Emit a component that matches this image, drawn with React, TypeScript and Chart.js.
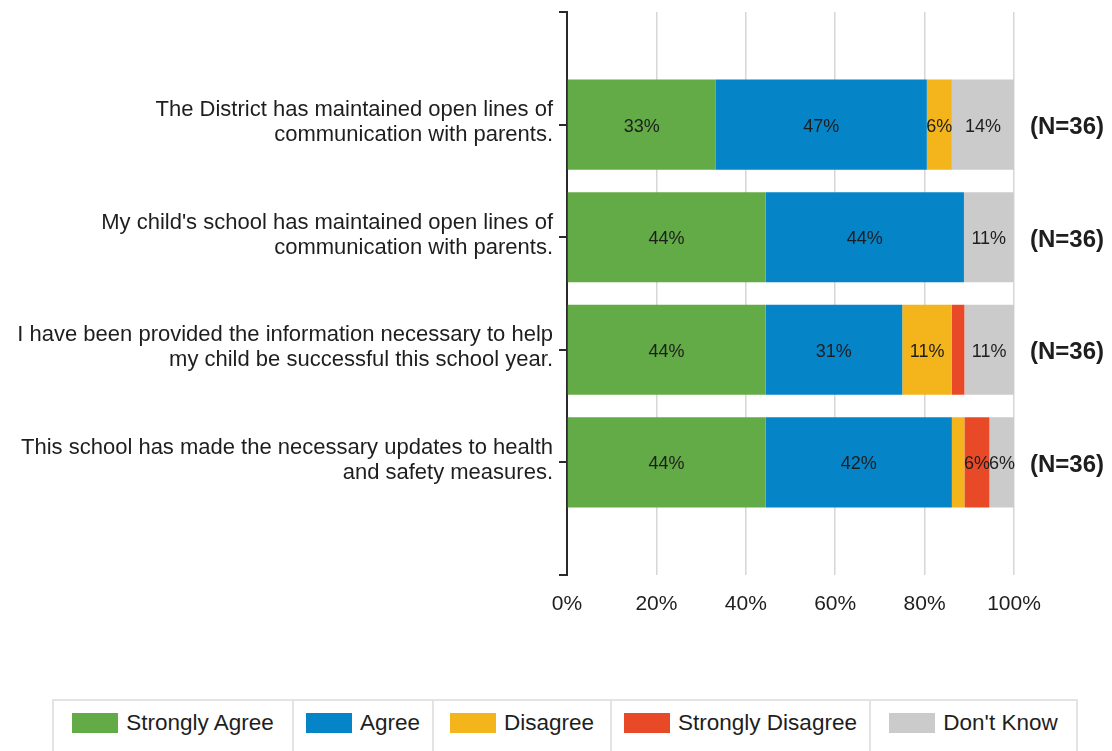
import React, { useEffect, useRef } from 'react';
import { Chart, registerables } from 'chart.js';

Chart.register(...registerables);

const categories: string[][] = [
  ['The District has maintained open lines of', 'communication with parents.'],
  ["My child's school has maintained open lines of", 'communication with parents.'],
  ['I have been provided the information necessary to help', 'my child be successful this school year.'],
  ['This school has made the necessary updates to health', 'and safety measures.'],
];
const nLabels = ['(N=36)', '(N=36)', '(N=36)', '(N=36)'];
const seriesNames = ['Strongly Agree', 'Agree', 'Disagree', 'Strongly Disagree', "Don't Know"];
const seriesColors = ['#62ab46', '#0584c8', '#f3b51b', '#e84a27', '#cbcbcb'];
const stronglyAgree = [33.3, 44.4, 44.4, 44.4];
const agree = [47.2, 44.4, 30.6, 41.7];
const disagree = [5.6, 0, 11.1, 2.8];
const stronglyDisagree = [0, 0, 2.8, 5.6];
const dontKnow = [13.9, 11.1, 11.1, 5.6];
const xTickStep = 20;
const labelThreshold = 5;

const FONT = '"Liberation Sans", Arial, sans-serif';
const TEXT = '#1e1e1e';

const segmentLabels = {
  id: 'segmentLabels',
  afterDatasetsDraw(chart: any) {
    const ctx = chart.ctx;
    ctx.save();
    ctx.font = `18px ${FONT}`;
    ctx.fillStyle = TEXT;
    ctx.textAlign = 'center';
    ctx.textBaseline = 'middle';
    chart.data.datasets.forEach((ds: any, di: number) => {
      const meta = chart.getDatasetMeta(di);
      meta.data.forEach((bar: any, i: number) => {
        const v = ds.data[i];
        if (v == null || v < labelThreshold) return;
        const p = bar.getProps(['x', 'y', 'base'], true);
        ctx.fillText(Math.round(v) + '%', (p.x + p.base) / 2, p.y + 2);
      });
    });
    ctx.restore();
  },
};

export default function App() {
  const ref = useRef<HTMLCanvasElement | null>(null);

  useEffect(() => {
    document.body.style.margin = '0';
    const series = [stronglyAgree, agree, disagree, stronglyDisagree, dontKnow];
    const chart = new Chart(ref.current as HTMLCanvasElement, {
      type: 'bar',
      data: {
        labels: [[''], ...categories, ['']] as any,
        datasets: series.map((vals, i) => ({
          label: seriesNames[i],
          data: [null, ...vals, null] as any,
          backgroundColor: seriesColors[i],
          borderWidth: 0,
          categoryPercentage: 0.8,
          barPercentage: 1,
        })),
      },
      options: {
        indexAxis: 'y',
        animation: false,
        responsive: false,
        devicePixelRatio: 1,
        layout: { padding: { top: 12, left: 0, right: 0, bottom: 0 } },
        plugins: { legend: { display: false }, tooltip: { enabled: false } },
        scales: {
          x: {
            type: 'linear',
            stacked: true,
            min: 0,
            max: 100,
            ticks: {
              stepSize: xTickStep,
              callback: (v: any) => v + '%',
              font: { family: FONT, size: 21 },
              color: TEXT,
              padding: 17,
            },
            grid: {
              color: (c: any) => (c.tick && c.tick.value === 0 ? 'rgba(0,0,0,0)' : '#d6d6d6'),
              lineWidth: 1.5,
              drawTicks: false,
            },
            border: { display: false },
            afterFit: (s: any) => { s.height = 115; },
          },
          y: {
            type: 'category',
            stacked: true,
            offset: false,
            ticks: {
              autoSkip: false,
              font: { family: FONT, size: 22, lineHeight: 1.14 },
              color: TEXT,
              padding: 6,
              labelOffset: -2,
            },
            grid: {
              display: true,
              drawOnChartArea: false,
              drawTicks: true,
              tickLength: 8,
              color: '#2a2a2a',
              lineWidth: 2,
              offset: false,
            },
            border: { display: true, color: '#2a2a2a', width: 2 },
            afterFit: (s: any) => { s.width = 567; s.paddingTop = 0; s.paddingBottom = 0; },
          },
          y2: {
            type: 'category',
            position: 'right',
            labels: ['', ...nLabels, ''],
            offset: false,
            ticks: {
              autoSkip: false,
              font: { family: FONT, size: 24, weight: 'bold' },
              color: TEXT,
              padding: 16,
              labelOffset: 3,
            },
            grid: { display: false, drawTicks: false },
            border: { display: false },
            afterFit: (s: any) => { s.width = 98; s.paddingTop = 0; s.paddingBottom = 0; },
          },
        } as any,
      },
      plugins: [segmentLabels],
    });
    return () => chart.destroy();
  }, []);

  const cellWidths = [238, 140, 178, 259, 207];

  return (
    <div style={{ position: 'relative', width: 1112, height: 751, overflow: 'hidden', background: '#fff' }}>
      <canvas ref={ref} width={1112} height={690} style={{ display: 'block' }} />
      <div
        style={{
          position: 'absolute',
          left: 52,
          top: 699,
          height: 54,
          display: 'flex',
          border: '2px solid #e3e3e3',
          boxSizing: 'border-box',
          fontFamily: FONT,
          fontSize: 22.5,
          color: TEXT,
        }}
      >
        {seriesNames.map((name, i) => (
          <div
            key={name}
            style={{
              width: cellWidths[i],
              boxSizing: 'border-box',
              borderLeft: i === 0 ? 'none' : '2px solid #e3e3e3',
              display: 'flex',
              alignItems: 'center',
              justifyContent: 'center',
              paddingBottom: 6,
              whiteSpace: 'nowrap',
            }}
          >
            <span style={{ display: 'inline-block', width: 46, height: 20, background: seriesColors[i], marginRight: 8, flex: 'none' }} />
            <span>{name}</span>
          </div>
        ))}
      </div>
    </div>
  );
}
